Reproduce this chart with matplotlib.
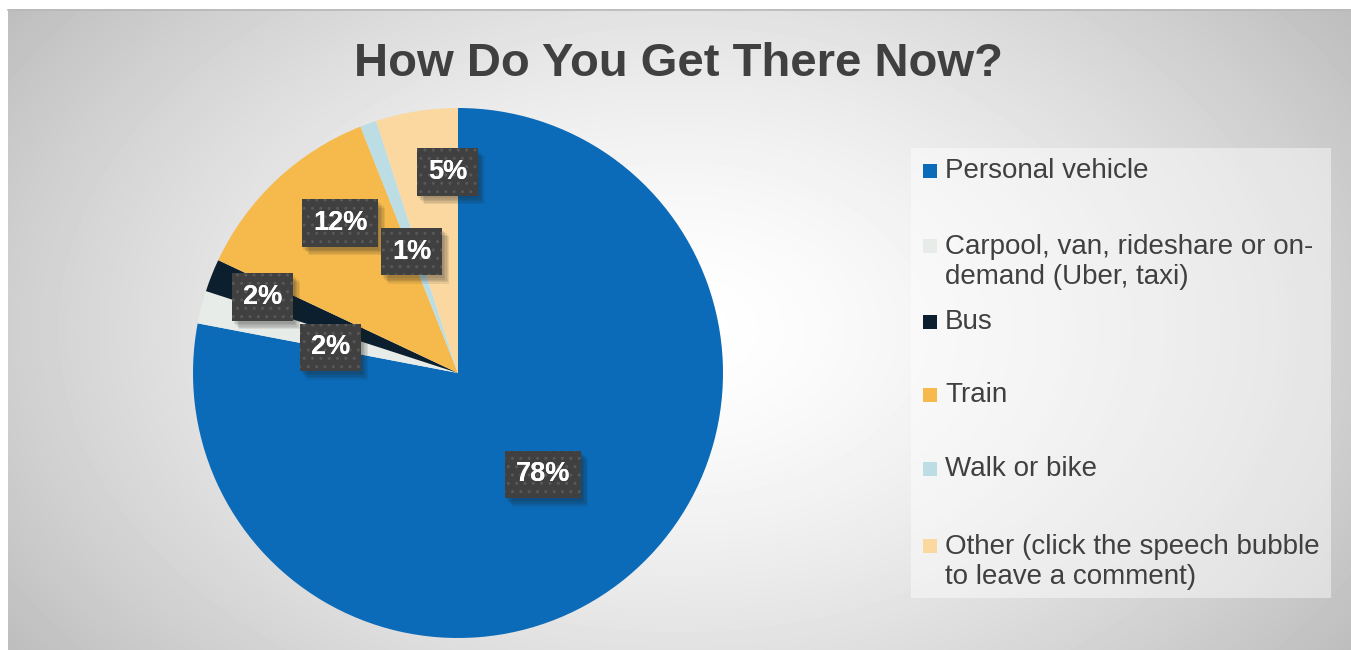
import numpy as np
import matplotlib.pyplot as plt
from matplotlib.patches import Rectangle
from matplotlib.lines import Line2D
from matplotlib import patheffects as pe

plt.rcParams['font.family'] = ['Liberation Sans', 'DejaVu Sans']

# survey answers
categories = ['Personal vehicle',
              'Carpool, van, rideshare or on-\ndemand (Uber, taxi)',
              'Bus',
              'Train',
              'Walk or bike',
              'Other (click the speech bubble\nto leave a comment)']
shares = [78, 2, 2, 12, 1, 5]
colors = ['#0B6BB8', '#E8ECE8', '#0B1F2E', '#F5B94C', '#BCDDE4', '#FAD8A0']

# where the percentage boxes sit (fraction of radius, angle nudge in degrees)
label_dist = [0.50, 0.49, 0.79, 0.72, 0.49, 0.76]
label_shift = [0.5, 3, 0.4, -5, 1, -6]

# vertical centres of the legend entries, in pixels from the top
legend_y = [171, 262, 322, 395, 469, 562]

W, H = 1351, 650
fig = plt.figure(figsize=(W / 100, H / 100), dpi=100)
fig.patch.set_facecolor('white')

# soft grey radial background
bg = fig.add_axes([8 / W, 0, 1 - 8 / W, 1 - 9 / H])
bg.set_axis_off()
yy, xx = np.mgrid[0:641, 0:1343]
r = np.sqrt(((xx - 670) / 900) ** 2 + ((yy - 320) / 600) ** 2)
shade = 255 - 75 * r ** 1.5
bg.imshow(shade, cmap='gray', vmin=0, vmax=255, aspect='auto', interpolation='bilinear')
fig.add_artist(Line2D([8 / W, 1], [1 - 9.5 / H] * 2, color='#b8b8b8', lw=1.2))

# pie
ax = fig.add_axes([(458 - 265) / W, 1 - (373 + 265) / H, 530 / W, 530 / H])
wedges, _ = ax.pie(shares, colors=colors, startangle=90, counterclock=False,
                   radius=1, wedgeprops=dict(linewidth=0))
ax.set_xlim(-1, 1)
ax.set_ylim(-1, 1)
ax.set_axis_off()

# layered offsets give a blurred drop shadow
shadow = [pe.SimplePatchShadow(offset=(o, -o - 1), shadow_rgbFace='#202020', alpha=0.09)
          for o in (5, 4, 3, 2, 1)]

box = dict(boxstyle='square,pad=0.4', lw=0)
for w, v, d, s in zip(wedges, shares, label_dist, label_shift):
    th = np.deg2rad((w.theta1 + w.theta2) / 2 + s)
    x, y = d * np.cos(th), d * np.sin(th)
    t = ax.text(x, y, f'{v}%', ha='center', va='center', color='white',
                fontsize=19.5, fontweight='bold', bbox=dict(box, fc='#404040'))
    t.get_bbox_patch().set_path_effects(shadow + [pe.Normal()])
    # dotted texture on top
    ax.text(x, y, f'{v}%', ha='center', va='center', color='white',
            fontsize=19.5, fontweight='bold',
            bbox=dict(box, fc='none', ec='#585858', hatch='..'))

fig.text(678 / W, 1 - 64 / H, 'How Do You Get There Now?', ha='center', va='center',
         fontsize=34, fontweight='bold', color='#404040')

# legend panel
fig.add_artist(Rectangle((911 / W, 1 - 598 / H), 420 / W, 450 / H,
                         transform=fig.transFigure, fc='white', alpha=0.45, lw=0))
for label, c, y in zip(categories, colors, legend_y):
    nlines = label.count('\n') + 1
    y0 = y - 16 * (nlines - 1)
    fig.add_artist(Rectangle((923 / W, 1 - (y0 + 7) / H), 14 / W, 14 / H,
                             transform=fig.transFigure, fc=c, lw=0))
    fig.text(945 / W, 1 - y / H, label, ha='left', va='center',
             fontsize=20, color='#404040', linespacing=1.15)

fig.savefig('out.png', dpi=100)
